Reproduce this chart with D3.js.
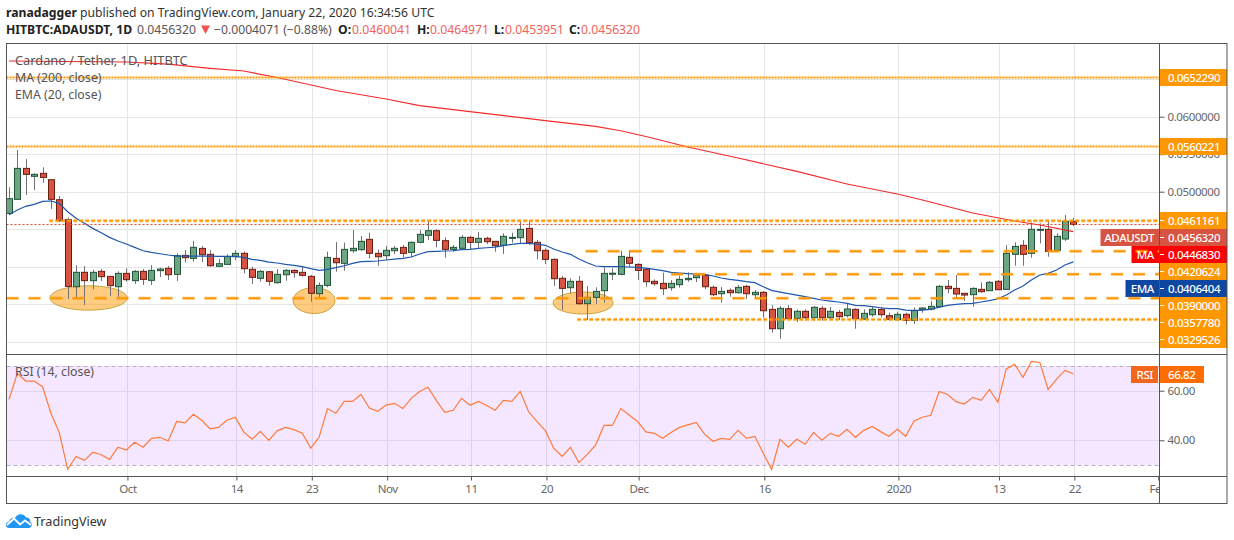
<!DOCTYPE html>
<html>
<head>
<meta charset="utf-8">
<script src="https://cdn.jsdelivr.net/npm/d3@7"></script>
<style>
    html, body { margin: 0; padding: 0; background: #fff; }
    svg { display: block; font-family: "Noto Sans", sans-serif; }
    .price-axis path, .rsi-axis path, .time-axis path { display: none; }
    .price-axis line, .rsi-axis line, .time-axis line { stroke: #555; }
    .price-axis text, .rsi-axis text, .time-axis text { fill: #666; font-size: 11.5px; letter-spacing: -0.4px; font-family: "Noto Sans", sans-serif; }
</style>
</head>
<body>
<svg id="chart" width="1234" height="540"></svg>
<script>
const firstDay = new Date(Date.UTC(2019, 8, 17))

const opens = [0.04711,0.04898,0.05311,0.05205,0.05245,0.0516,0.04893,0.04627,0.03733,0.03925,0.03814,0.03938,0.03871,0.03733,0.03911,0.03814,0.03938,0.03818,0.03947,0.03978,0.03898,0.04151,0.04111,0.04244,0.04165,0.04005,0.04031,0.04133,0.04178,0.03965,0.03845,0.03933,0.03787,0.03893,0.03951,0.03925,0.03871,0.0364,0.03751,0.04111,0.04045,0.04213,0.04227,0.04365,0.04178,0.04147,0.04213,0.04258,0.04191,0.04325,0.04418,0.0448,0.04347,0.04231,0.04245,0.04391,0.04325,0.04378,0.04338,0.04285,0.04389,0.04387,0.04511,0.04325,0.04218,0.04098,0.03845,0.0372,0.03805,0.03507,0.03591,0.0368,0.0391,0.03898,0.04125,0.04031,0.03965,0.03805,0.03778,0.0372,0.0376,0.03827,0.03853,0.03885,0.03725,0.0364,0.03685,0.03653,0.03738,0.03627,0.03658,0.03431,0.03173,0.0344,0.03311,0.03405,0.0332,0.03445,0.0332,0.03391,0.03347,0.03431,0.03302,0.0336,0.03431,0.03347,0.03293,0.03365,0.03285,0.03431,0.03436,0.03467,0.03738,0.03711,0.03645,0.03627,0.03698,0.0368,0.03805,0.03698,0.04165,0.04285,0.04178,0.04496,0.04498,0.04218,0.04369,0.046004]
const closes = [0.04907,0.05311,0.05231,0.05231,0.05191,0.04898,0.04613,0.03738,0.03925,0.03814,0.03925,0.03867,0.03747,0.03911,0.03827,0.03938,0.03831,0.03951,0.03969,0.03893,0.04147,0.0412,0.04258,0.0416,0.04013,0.0404,0.04133,0.04178,0.03973,0.03858,0.03938,0.03805,0.03898,0.03951,0.0392,0.03885,0.03645,0.03751,0.04124,0.04053,0.04231,0.04245,0.04338,0.04178,0.04133,0.04218,0.04245,0.04178,0.04325,0.04431,0.0448,0.04351,0.04231,0.04258,0.04391,0.04325,0.04378,0.04333,0.0428,0.04405,0.04391,0.04498,0.0432,0.04213,0.04098,0.0384,0.03711,0.03805,0.03507,0.03591,0.03671,0.03911,0.03913,0.04138,0.04045,0.03951,0.038,0.03773,0.03707,0.03778,0.03831,0.03845,0.03889,0.03733,0.03627,0.03671,0.03653,0.03725,0.0364,0.03658,0.03413,0.03173,0.03445,0.03307,0.03405,0.0332,0.03458,0.0332,0.03405,0.03333,0.03436,0.03307,0.03378,0.03431,0.0336,0.03298,0.03365,0.03285,0.03418,0.03449,0.03471,0.03738,0.03707,0.03636,0.03622,0.03711,0.03667,0.03791,0.03693,0.04178,0.04271,0.04165,0.04498,0.04498,0.04205,0.04405,0.04605,0.045632]
const highs = [0.05058,0.05556,0.05435,0.05245,0.05325,0.0516,0.04942,0.04658,0.04022,0.04009,0.0396,0.03969,0.03871,0.03938,0.03978,0.03956,0.03969,0.04022,0.03987,0.04009,0.04178,0.04222,0.04342,0.04276,0.04222,0.04102,0.04165,0.04222,0.042,0.04,0.03956,0.03938,0.03969,0.03969,0.03965,0.04,0.03889,0.03791,0.042,0.04329,0.0432,0.04489,0.04409,0.04453,0.04231,0.04276,0.04276,0.04289,0.04338,0.04489,0.04622,0.04498,0.04391,0.04289,0.04422,0.04409,0.04462,0.044,0.04338,0.04445,0.04453,0.046,0.04622,0.04356,0.04245,0.04111,0.03876,0.03845,0.03876,0.03742,0.03725,0.03991,0.03978,0.04213,0.04222,0.04045,0.03982,0.03831,0.0392,0.03822,0.0388,0.03925,0.03911,0.03902,0.03751,0.03729,0.03711,0.03756,0.03756,0.03689,0.03676,0.03489,0.03476,0.03489,0.03431,0.03431,0.03476,0.03476,0.03462,0.03422,0.03502,0.03445,0.03431,0.03467,0.03453,0.03387,0.034,0.03387,0.03458,0.03458,0.03542,0.03756,0.03822,0.03889,0.0365,0.03725,0.03791,0.03809,0.03822,0.04289,0.04325,0.04356,0.04591,0.04578,0.04613,0.04445,0.04689,0.04650]
const lows = [0.04689,0.04898,0.04956,0.05022,0.0512,0.04769,0.046,0.03569,0.03578,0.03489,0.037,0.03809,0.03609,0.03591,0.038,0.03769,0.03756,0.03756,0.03862,0.03822,0.03809,0.04058,0.04067,0.04062,0.04,0.03996,0.04031,0.04089,0.03911,0.03769,0.038,0.03747,0.03773,0.03813,0.03853,0.03867,0.03533,0.03591,0.03725,0.03933,0.03947,0.04187,0.04213,0.04111,0.04013,0.04089,0.04169,0.04124,0.04124,0.04311,0.04356,0.04258,0.0412,0.042,0.04231,0.04231,0.04253,0.04302,0.042,0.04169,0.0432,0.04311,0.04289,0.04098,0.04036,0.03742,0.03422,0.03645,0.03489,0.03289,0.03502,0.0352,0.03822,0.03885,0.03987,0.03822,0.03733,0.03747,0.03622,0.0368,0.0372,0.038,0.03796,0.03702,0.03609,0.0352,0.036,0.03644,0.03569,0.03578,0.03325,0.0312,0.0304,0.03289,0.03262,0.0328,0.0328,0.0328,0.03284,0.03289,0.03325,0.03173,0.03289,0.03333,0.03325,0.0328,0.0328,0.03231,0.03236,0.03387,0.03418,0.03458,0.03645,0.03587,0.03542,0.03467,0.03653,0.0368,0.03693,0.03698,0.04013,0.04013,0.0412,0.04311,0.04133,0.042,0.04342,0.045395]

const emaValues = [0.04693,0.04756,0.04805,0.04831,0.04871,0.04876,0.04845,0.04733,0.04645,0.04578,0.04511,0.04453,0.04391,0.04342,0.04302,0.04258,0.04213,0.04191,0.04173,0.04156,0.04142,0.04142,0.04142,0.04142,0.04142,0.04138,0.04138,0.04138,0.04125,0.04098,0.04085,0.04062,0.04049,0.04031,0.04018,0.04,0.03974,0.03951,0.03965,0.03987,0.04013,0.04045,0.04067,0.04071,0.04076,0.04089,0.04102,0.04111,0.04129,0.04169,0.042,0.04205,0.04209,0.04213,0.04227,0.04231,0.04245,0.04253,0.04262,0.0428,0.04298,0.04311,0.04311,0.04302,0.04285,0.04236,0.04196,0.04165,0.04102,0.04053,0.04009,0.04,0.04,0.04,0.03996,0.03991,0.03982,0.03965,0.03947,0.03925,0.03916,0.03907,0.03902,0.03898,0.03876,0.03849,0.03831,0.03818,0.038,0.03787,0.03733,0.03685,0.03662,0.0364,0.03622,0.036,0.03578,0.03556,0.03542,0.03529,0.03511,0.03485,0.0348,0.03467,0.03453,0.0344,0.0344,0.03422,0.03414,0.03422,0.03431,0.03462,0.03485,0.03498,0.03507,0.03511,0.03529,0.03547,0.03573,0.03622,0.03689,0.03742,0.03822,0.03889,0.03911,0.03956,0.04022,0.040640]

const maDays = [0,14,19,24,28,32,39,45,49,55,64,70,73,76,81,87,94,100,106,109,115,120,123,127]
const maValues = [0.06743,0.06729,0.067,0.06645,0.06609,0.06523,0.06349,0.06236,0.06147,0.06067,0.05947,0.0587,0.05813,0.05736,0.05596,0.05449,0.0527,0.05103,0.04969,0.04889,0.04716,0.04609,0.04556,0.044683]

const rsiValues = [56.5,67,63.9,63.9,61.6,50.9,43.1,28.3,33.5,31.9,35.2,34.2,32.3,37.2,36.1,39.2,37.2,40.8,41.2,39.7,47.6,47,50.5,48.1,44.6,45.2,48.1,49.3,43.4,40.4,43.6,40,43.8,45.2,44.3,42.9,36.8,41.2,52.8,50.9,55.7,55.7,58.5,53,51.7,54.2,54.9,52.8,56.9,59.7,61.4,56,51.3,52.1,56.9,54.1,55.7,54,52.1,56.1,55.7,59.7,51.5,47.6,43.9,36.8,33.5,37.2,31,34.3,38.1,46,46,52.8,50.2,47.6,43.4,42.8,40.8,43.1,45.2,46.2,47.2,42.5,39.6,40.8,40.4,44,40.8,41.6,34.8,28.3,40.4,37.2,40.4,38.4,43.2,40,42.8,41.6,44.4,41.2,44,45.6,43.5,41.6,44.4,41.6,47.8,49.3,50.1,59.7,58.5,55.6,54.6,57.3,56.1,60.5,55.3,68.8,70.6,65.4,71.8,71.4,60.5,64.7,68.2,66.82]

const priceTicks = [0.065,0.06,0.055,0.05,0.045,0.04,0.035,0.03]
const shownPriceTicks = [0.06,0.055,0.05] // the others sit under the stacked labels
const rsiTicks = [60,40]
const tickDays = [14,27,36,45,55,64,75,90,106,118,127,137]
const tickLabels = ["Oct","14","23","Nov","11","20","Dec","16","2020","13","22","Feb"]

// horizontal levels drawn by the author: price, first day, dash kind
const levelPrices = [0.065229,0.0560221,0.0461161,0.0420624,0.039,0.035778,0.0329526]
const levelStart = [null,null,4.8,68.8,79,null,67.8]
const levelDash = ["2,1","2,1","4,2","12,10","12,10","12,10","4,2"]
const levelWidth = [1.5,1.5,2,2,2,2,2]

// support zones: centre day, centre price, half width in days, half height in price
const zoneDays = [9.5,36.4,68.5]
const zonePrices = [0.03583,0.03549,0.03516]
const zoneHalfDays = [4.62,2.5,3.58]
const zoneHalfPrices = [0.00163,0.00173,0.00147]

// right hand labels, top to bottom, they get stacked by TradingView
const labelTexts = ["0.0461161","0.0456320","0.0446830","0.0420624","0.0406404","0.0390000","0.0357780","0.0329526"]
const labelColors = ["#ff9800","#d75442","#ff0000","#ff9800","#0d47a1","#ff9800","#ff9800","#ff9800"]
const nameTexts = [null,"ADAUSDT","MA",null,"EMA",null,null,null]

const paneLeft = 6.5, paneRight = 1159.5, outerRight = 1227
const paneTop = 43.5, paneSplit = 354.5, rsiBottom = 476.5, frameBottom = 503.5
const gridShift = 1.1

const dayOf = i => d3.utcDay.offset(firstDay, i)
const scaleX = d3.scaleUtc().domain([dayOf(0), dayOf(127)]).range([9, 1073.3])
const scaleY = d3.scaleLinear().domain([0.03, 0.06]).range([341.7, 116.7])
const scaleRsi = d3.scaleLinear().domain([40, 60]).range([440.3, 390.7])
const dayWidth = scaleX(dayOf(1)) - scaleX(dayOf(0))

const svg = d3.select("#chart")

const defs = svg.append("defs")
defs.append("clipPath").attr("id", "mainClip").append("rect")
    .attr("x", paneLeft).attr("y", paneTop).attr("width", paneRight - paneLeft).attr("height", paneSplit - paneTop)
defs.append("clipPath").attr("id", "rsiClip").append("rect")
    .attr("x", paneLeft).attr("y", paneSplit).attr("width", paneRight - paneLeft).attr("height", rsiBottom - paneSplit)
defs.append("clipPath").attr("id", "timeClip").append("rect")
    .attr("x", paneLeft).attr("y", rsiBottom).attr("width", paneRight - paneLeft).attr("height", frameBottom - rsiBottom)

const drawGrid = () => {
    const grid = svg.append("g").attr("stroke", "#e6e6e6").attr("stroke-width", 1)
    grid.selectAll("line.v").data(tickDays.slice(0, -1)).enter().append("line")
        .attr("x1", d => Math.round(scaleX(dayOf(d)) + gridShift) + 0.5)
        .attr("x2", d => Math.round(scaleX(dayOf(d)) + gridShift) + 0.5)
        .attr("y1", paneTop).attr("y2", rsiBottom)
    grid.selectAll("line.h").data(priceTicks).enter().append("line")
        .attr("x1", paneLeft).attr("x2", paneRight)
        .attr("y1", d => Math.round(scaleY(d)) + 0.5)
        .attr("y2", d => Math.round(scaleY(d)) + 0.5)
}

const drawRsiPane = () => {
    svg.append("rect")
        .attr("x", paneLeft).attr("width", paneRight - paneLeft - 1)
        .attr("y", scaleRsi(70)).attr("height", scaleRsi(30) - scaleRsi(70))
        .attr("fill", "#9915ff").attr("opacity", 0.1)
    svg.append("g").selectAll("line").data(rsiTicks).enter().append("line")
        .attr("x1", paneLeft).attr("x2", paneRight)
        .attr("y1", d => Math.round(scaleRsi(d)) + 0.5)
        .attr("y2", d => Math.round(scaleRsi(d)) + 0.5)
        .attr("stroke", "#e0d4ea")
    svg.append("g").selectAll("line").data([70, 30]).enter().append("line")
        .attr("x1", paneLeft).attr("x2", paneRight)
        .attr("y1", d => Math.round(scaleRsi(d)) + 0.5)
        .attr("y2", d => Math.round(scaleRsi(d)) + 0.5)
        .attr("stroke", "#b9b1c0")
        .attr("stroke-dasharray", "4,3")

    const line = d3.line()
        .x((d, i) => scaleX(dayOf(i)))
        .y(d => scaleRsi(d))
    svg.append("path")
        .datum(rsiValues)
        .attr("clip-path", "url(#rsiClip)")
        .attr("fill", "none")
        .attr("stroke", "#ff7a3a")
        .attr("stroke-width", 1.2)
        .attr("d", line)
}

const drawZones = () => {
    svg.append("g").attr("clip-path", "url(#mainClip)")
        .selectAll("ellipse").data(zoneDays).enter().append("ellipse")
        .attr("cx", d => scaleX(dayOf(0)) + d * dayWidth)
        .attr("cy", (d, i) => scaleY(zonePrices[i]))
        .attr("rx", (d, i) => zoneHalfDays[i] * dayWidth)
        .attr("ry", (d, i) => scaleY(zonePrices[i] - zoneHalfPrices[i]) - scaleY(zonePrices[i]))
        .attr("fill", "#ff9800").attr("fill-opacity", 0.5)
        .attr("stroke", "#c9a63a").attr("stroke-width", 1)
}

const drawCandles = () => {
    const g = svg.append("g").attr("clip-path", "url(#mainClip)")
    const candles = g.selectAll("g").data(opens).enter().append("g")
    const cx = (d, i) => Math.round(scaleX(dayOf(i))) + 0.5
    candles.append("line")
        .attr("x1", cx).attr("x2", cx)
        .attr("y1", (d, i) => scaleY(highs[i]))
        .attr("y2", (d, i) => scaleY(lows[i]))
        .attr("stroke", "#737375")
    candles.append("rect")
        .attr("x", (d, i) => cx(d, i) - 3)
        .attr("width", 6)
        .attr("y", (d, i) => scaleY(Math.max(d, closes[i])))
        .attr("height", (d, i) => Math.max(1, Math.abs(scaleY(d) - scaleY(closes[i]))))
        .attr("fill", (d, i) => closes[i] >= d ? "#6ba583" : "#d75442")
        .attr("stroke", (d, i) => closes[i] >= d ? "#225437" : "#6b1d12")
        .attr("stroke-width", 1)
}

const drawAverages = () => {
    const g = svg.append("g").attr("clip-path", "url(#mainClip)").attr("fill", "none")
    const emaLine = d3.line().x((d, i) => scaleX(dayOf(i))).y(d => scaleY(d))
    g.append("path").datum(emaValues)
        .attr("stroke", "#1e56ad").attr("stroke-width", 1.2).attr("d", emaLine)
    const maLine = d3.line().x((d, i) => scaleX(dayOf(maDays[i]))).y(d => scaleY(d))
    g.append("path").datum(maValues)
        .attr("stroke", "#f52a2a").attr("stroke-width", 1.2).attr("d", maLine)
}

const drawLevels = () => {
    const g = svg.append("g").attr("clip-path", "url(#mainClip)")
    const startX = i => levelStart[i] === null ? paneLeft : scaleX(dayOf(0)) + levelStart[i] * dayWidth
    g.selectAll("line.halo").data(levelPrices).enter().append("line")
        .attr("x1", (d, i) => startX(i)).attr("x2", paneRight)
        .attr("y1", d => scaleY(d)).attr("y2", d => scaleY(d))
        .attr("stroke", "#ff9800").attr("stroke-opacity", 0.3).attr("stroke-width", 3.5)
        .attr("stroke-dasharray", (d, i) => levelDash[i])
    g.selectAll("line.core").data(levelPrices).enter().append("line")
        .attr("x1", (d, i) => startX(i)).attr("x2", paneRight)
        .attr("y1", d => scaleY(d)).attr("y2", d => scaleY(d))
        .attr("stroke", "#ff9800").attr("stroke-width", (d, i) => levelWidth[i])
        .attr("stroke-dasharray", (d, i) => levelDash[i])
    // last price line
    g.append("line")
        .attr("x1", paneLeft).attr("x2", paneRight)
        .attr("y1", scaleY(closes[closes.length - 1])).attr("y2", scaleY(closes[closes.length - 1]))
        .attr("stroke", "#e8402a").attr("stroke-width", 1).attr("stroke-dasharray", "2,2")
}

const drawFrame = () => {
    const frame = svg.append("g").attr("stroke", "#555").attr("fill", "none")
    frame.append("rect").attr("x", paneLeft).attr("y", paneTop).attr("width", outerRight - paneLeft).attr("height", frameBottom - paneTop)
    frame.append("line").attr("x1", paneRight).attr("x2", paneRight).attr("y1", paneTop).attr("y2", frameBottom)
    frame.append("line").attr("x1", paneLeft).attr("x2", outerRight).attr("y1", paneSplit).attr("y2", paneSplit)
    frame.append("line").attr("x1", paneLeft).attr("x2", outerRight).attr("y1", rsiBottom).attr("y2", rsiBottom)
}

const drawAxes = () => {
    const priceAxis = d3.axisRight(scaleY)
        .tickValues(priceTicks).tickSize(5).tickPadding(3)
        .tickFormat(d => shownPriceTicks.includes(d) ? d3.format(".7f")(d) : "")
    svg.append("g").attr("class", "price-axis")
        .attr("transform", `translate(${paneRight},0)`).call(priceAxis)

    const rsiAxis = d3.axisRight(scaleRsi)
        .tickValues(rsiTicks).tickSize(5).tickPadding(3).tickFormat(d3.format(".2f"))
    svg.append("g").attr("class", "rsi-axis")
        .attr("transform", `translate(${paneRight},0)`).call(rsiAxis)

    const timeAxis = d3.axisBottom(scaleX)
        .tickValues(tickDays.map(dayOf)).tickSize(4).tickPadding(4)
        .tickFormat((d, i) => tickLabels[i])
    svg.append("g").attr("clip-path", "url(#timeClip)")
        .append("g").attr("class", "time-axis")
        .attr("transform", `translate(${gridShift},${rsiBottom})`).call(timeAxis)
}

const drawBox = (x, y, w, h, color) => svg.append("rect")
    .attr("x", x).attr("y", y).attr("width", w).attr("height", h).attr("fill", color)

const drawBoxText = (x, y, text, anchor) => svg.append("text")
    .attr("x", x).attr("y", y).attr("dy", "0.36em")
    .attr("text-anchor", anchor || "start")
    .attr("fill", "#fff").attr("font-size", 11.5)
    .attr("font-weight", 500)
    .attr("letter-spacing", "-0.4px")
    .text(text)

const drawPriceBoxes = () => {
    drawBox(1160, 69, 67, 17, "#ff9800")
    drawBoxText(1168, 77.5, "0.0652290")
    drawBox(1160, 138, 67, 17, "#ff9800")
    drawBoxText(1168, 146.5, "0.0560221")
    labelTexts.forEach((text, i) => {
        const y0 = 212 + i * 17
        drawBox(1160, y0, 67, 17, labelColors[i])
        drawBoxText(1168, y0 + 8.5, text)
    })
    svg.append("g").selectAll("line").data(labelTexts).enter().append("line")
        .attr("x1", 1160).attr("x2", 1164)
        .attr("y1", (d, i) => 220.5 + i * 17).attr("y2", (d, i) => 220.5 + i * 17)
        .attr("stroke", "#fff")
    drawBox(1160, 366, 44, 17, "#ff6d00")
    drawBoxText(1168, 374.5, "66.82")
}

const drawNameBoxes = () => {
    const widths = { ADAUSDT: 59, MA: 28, EMA: 34 }
    nameTexts.forEach((name, i) => {
        if (!name) return
        drawBox(paneRight - widths[name], 212 + i * 17, widths[name], 17, labelColors[i])
    })
    drawBox(1131, 366, 27, 17, "#f4651d")
}

const drawNameTexts = () => {
    nameTexts.forEach((name, i) => {
        if (!name) return
        drawBoxText(1154, 220.5 + i * 17, name, "end")
    })
    drawBoxText(1153, 374.5, "RSI", "end")
}

const drawLegends = () => {
    const legend = svg.append("g").attr("fill", "#555")
    legend.append("text").attr("x", 15).attr("y", 65).attr("font-size", 12.8).text("Cardano / Tether, 1D, HITBTC")
    legend.append("text").attr("x", 15).attr("y", 82).attr("font-size", 12.3).text("MA (200, close)")
    legend.append("text").attr("x", 15).attr("y", 99).attr("font-size", 12.3).text("EMA (20, close)")
    legend.append("text").attr("x", 15).attr("y", 376).attr("font-size", 12.3).text("RSI (14, close)")
}

const drawHeader = () => {
    const first = svg.append("text").attr("x", 6).attr("y", 17).attr("font-size", 12.2).attr("fill", "#333")
    first.append("tspan").attr("font-weight", 700).attr("fill", "#222").text("ranadagger")
    first.append("tspan").text(" published on TradingView.com, January 22, 2020 16:34:56 UTC")

    const pieces = [
        [6, "HITBTC:ADAUSDT, 1D", "#222", 700],
        [137, "0.0456320", "#555", 400],
        [214, "\u22120.0004071 (\u22120.88%)", "#555", 400],
        [338, "O:", "#222", 700],
        [352, "0.0460041", "#f0625a", 400],
        [417, "H:", "#222", 700],
        [430, "0.0464971", "#f0625a", 400],
        [494, "L:", "#222", 700],
        [505, "0.0453951", "#f0625a", 400],
        [569, "C:", "#222", 700],
        [581, "0.0456320", "#f0625a", 400],
    ]
    svg.append("g").selectAll("text").data(pieces).enter().append("text")
        .attr("x", d => d[0]).attr("y", 34)
        .attr("font-size", 12.2)
        .attr("fill", d => d[2]).attr("font-weight", d => d[3])
        .text(d => d[1])
    svg.append("path").attr("d", "M201,25.5 L210,25.5 L205.5,34 Z").attr("fill", "#ef5350")
}

const drawLogo = () => {
    const logo = svg.append("g").attr("transform", "translate(6,514)")
    logo.append("path")
        .attr("d", "M3,14 C-1,14 -1,8 3,7.5 C4,4 7,3 9,4 C11,-1 18,-1 20,3.5 C23,3 25,6 24,8 C27,9 26,14 23,14 Z")
        .attr("fill", "#2196f3")
    logo.append("path")
        .attr("d", "M1,11 L8,4.5 L14,10.5 L19,6.5 L25,11")
        .attr("fill", "none").attr("stroke", "#fff").attr("stroke-width", 1.8)
    svg.append("text").attr("x", 34).attr("y", 526).attr("font-size", 12.6).attr("fill", "#333").text("TradingView")
}

drawGrid()
drawRsiPane()
drawNameBoxes()
drawZones()
drawCandles()
drawAverages()
drawLevels()
drawAxes()
drawPriceBoxes()
drawNameTexts()
drawFrame()
drawLegends()
drawHeader()
drawLogo()
</script>
</body>
</html>
